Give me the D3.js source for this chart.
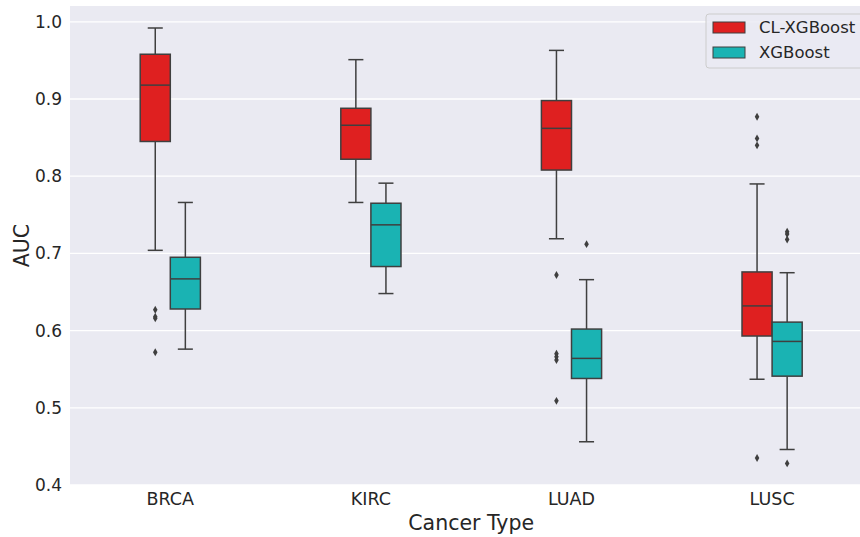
<!DOCTYPE html>
<html>
<head>
<meta charset="utf-8">
<script src="https://cdn.jsdelivr.net/npm/d3@7"></script>
<style>
  body { margin: 0; background: #fff; }
  text { font-family: "DejaVu Sans", sans-serif; fill: #262626; }
</style>
</head>
<body>
<svg id="chart" width="860" height="537"></svg>
<script>
// categories and series
var cancerTypes = ["BRCA", "KIRC", "LUAD", "LUSC"];
var models = ["CL-XGBoost", "XGBoost"];
var modelColors = ["#df2020", "#1ab3b3"];
var yTicks = [0.4, 0.5, 0.6, 0.7, 0.8, 0.9, 1.0];

// box stats per cancer type: [lower whisker, q1, median, q3, upper whisker]
var clStats = [
  [0.704, 0.845, 0.918, 0.958, 0.992],
  [0.766, 0.822, 0.866, 0.888, 0.951],
  [0.719, 0.808, 0.862, 0.898, 0.963],
  [0.537, 0.593, 0.632, 0.676, 0.790]
];
var xgStats = [
  [0.576, 0.628, 0.667, 0.695, 0.766],
  [0.648, 0.683, 0.737, 0.765, 0.791],
  [0.456, 0.538, 0.564, 0.602, 0.666],
  [0.446, 0.541, 0.586, 0.611, 0.675]
];
// outliers per cancer type
var clOutliers = [
  [0.627, 0.618, 0.616, 0.572],
  [],
  [0.672, 0.570, 0.566, 0.562, 0.509],
  [0.877, 0.849, 0.840, 0.435]
];
var xgOutliers = [
  [],
  [],
  [0.712],
  [0.728, 0.725, 0.718, 0.428]
];

var svg = d3.select("#chart");

var plot = { left: 70, right: 872.4, top: 6, bottom: 485 };

var x = d3.scaleBand()
    .domain(cancerTypes)
    .range([plot.left, plot.right])
    .padding(0);

var hue = d3.scaleBand()
    .domain(models)
    .range([x.bandwidth() * 0.35, x.bandwidth() * 0.65]);

var y = d3.scaleLinear()
    .domain([0.4, 1.0205])
    .range([plot.bottom, plot.top]);

// background
svg.append("rect")
    .attr("x", plot.left)
    .attr("y", plot.top)
    .attr("width", plot.right - plot.left)
    .attr("height", plot.bottom - plot.top)
    .attr("fill", "#eaeaf2");

// horizontal grid
svg.append("g")
    .selectAll("line")
    .data(yTicks)
    .enter()
    .append("line")
    .attr("x1", plot.left)
    .attr("x2", plot.right)
    .attr("y1", d => y(d))
    .attr("y2", d => y(d))
    .attr("stroke", "#fff")
    .attr("stroke-width", 1.3);

// y axis
var leftAxis = d3.axisLeft(y).tickValues(yTicks).tickFormat(d3.format(".1f")).tickSize(0).tickPadding(8);
var yAxisGroup = svg.append("g")
    .attr("transform", `translate(${plot.left}, 0)`)
    .call(leftAxis);
yAxisGroup.select(".domain").remove();
yAxisGroup.selectAll("text")
    .attr("font-size", "17px")
    .attr("fill", "#262626")
    .attr("font-family", "DejaVu Sans");

// x axis
var bottomAxis = d3.axisBottom(x).tickSize(0).tickPadding(8);
var xAxisGroup = svg.append("g")
    .attr("transform", `translate(0, ${plot.bottom})`)
    .call(bottomAxis);
xAxisGroup.select(".domain").remove();
xAxisGroup.selectAll("text")
    .attr("font-size", "17.5px")
    .attr("fill", "#262626")
    .attr("font-family", "DejaVu Sans");

// axis titles
svg.append("text")
    .attr("x", (plot.left + plot.right) / 2)
    .attr("y", 530)
    .attr("text-anchor", "middle")
    .attr("font-size", "20.5px")
    .text("Cancer Type");

svg.append("text")
    .attr("transform", "rotate(-90)")
    .attr("x", -(plot.top + plot.bottom) / 2)
    .attr("y", 29)
    .attr("text-anchor", "middle")
    .attr("font-size", "20.5px")
    .text("AUC");

// build box rows
var boxes = [];
cancerTypes.forEach(function(c, i) {
  boxes.push({ cat: c, model: models[0], color: modelColors[0], s: clStats[i], out: clOutliers[i] });
  boxes.push({ cat: c, model: models[1], color: modelColors[1], s: xgStats[i], out: xgOutliers[i] });
});

var lineColor = "#3f3f3f";
var boxW = hue.bandwidth();

var boxGroup = svg.append("g")
    .selectAll("g")
    .data(boxes)
    .enter()
    .append("g")
    .attr("transform", d => `translate(${x(d.cat) + hue(d.model)}, 0)`);

// whiskers
boxGroup.append("line")
    .attr("x1", boxW / 2).attr("x2", boxW / 2)
    .attr("y1", d => y(d.s[0])).attr("y2", d => y(d.s[1]))
    .attr("stroke", lineColor).attr("stroke-width", 1.5);
boxGroup.append("line")
    .attr("x1", boxW / 2).attr("x2", boxW / 2)
    .attr("y1", d => y(d.s[3])).attr("y2", d => y(d.s[4]))
    .attr("stroke", lineColor).attr("stroke-width", 1.5);
// caps
boxGroup.append("line")
    .attr("x1", boxW / 4).attr("x2", boxW * 3 / 4)
    .attr("y1", d => y(d.s[0])).attr("y2", d => y(d.s[0]))
    .attr("stroke", lineColor).attr("stroke-width", 1.5);
boxGroup.append("line")
    .attr("x1", boxW / 4).attr("x2", boxW * 3 / 4)
    .attr("y1", d => y(d.s[4])).attr("y2", d => y(d.s[4]))
    .attr("stroke", lineColor).attr("stroke-width", 1.5);

// box
boxGroup.append("rect")
    .attr("x", 0)
    .attr("width", boxW)
    .attr("y", d => y(d.s[3]))
    .attr("height", d => y(d.s[1]) - y(d.s[3]))
    .attr("fill", d => d.color)
    .attr("stroke", lineColor)
    .attr("stroke-width", 1.5);

// median
boxGroup.append("line")
    .attr("x1", 0).attr("x2", boxW)
    .attr("y1", d => y(d.s[2])).attr("y2", d => y(d.s[2]))
    .attr("stroke", lineColor).attr("stroke-width", 1.5);

// outliers (diamonds)
boxGroup.selectAll("path.outlier")
    .data(d => d.out)
    .enter()
    .append("path")
    .attr("class", "outlier")
    .attr("d", d3.symbol().type(d3.symbolDiamond).size(18))
    .attr("transform", d => `translate(${boxW / 2}, ${y(d)})`)
    .attr("fill", lineColor);

// legend
var legend = svg.append("g").attr("transform", "translate(706, 14)");
legend.append("rect")
    .attr("x", 0).attr("y", 0)
    .attr("width", 170).attr("height", 54)
    .attr("rx", 3)
    .attr("fill", "#eaeaf2")
    .attr("fill-opacity", 0.8)
    .attr("stroke", "#cccccc");

var legendRows = legend.selectAll("g")
    .data(models)
    .enter()
    .append("g")
    .attr("transform", (d, i) => `translate(0, ${i * 25})`);

legendRows.append("rect")
    .attr("x", 7).attr("y", 8)
    .attr("width", 32).attr("height", 11)
    .attr("fill", (d, i) => modelColors[i])
    .attr("stroke", lineColor)
    .attr("stroke-width", 1);

legendRows.append("text")
    .attr("x", 53).attr("y", 19)
    .attr("font-size", "16.5px")
    .text(d => d);
</script>
</body>
</html>
